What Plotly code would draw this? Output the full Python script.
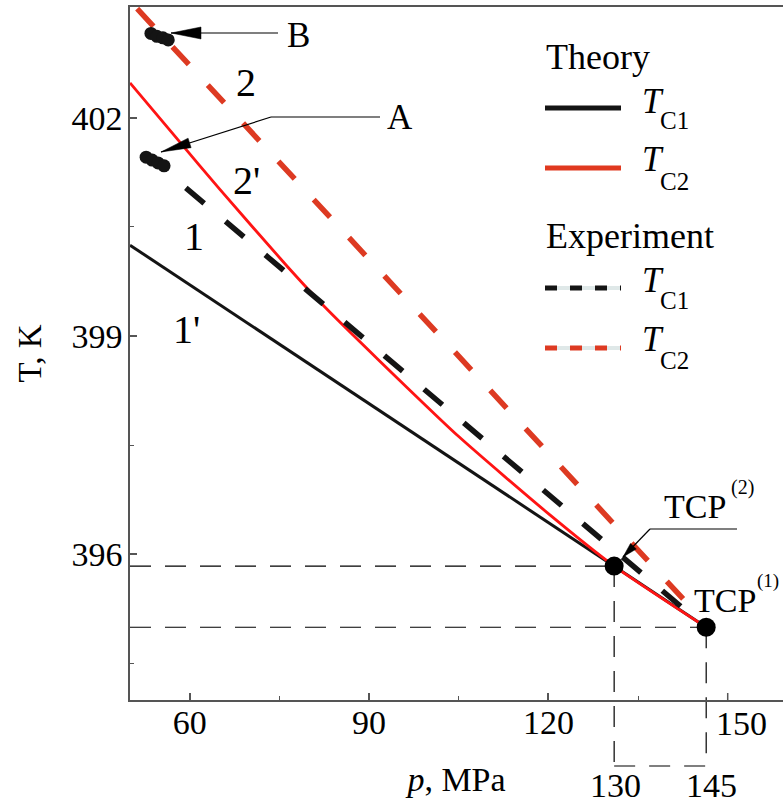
import plotly.graph_objects as go

# ---------------- data ----------------
p_theory_c1 = [50.0, 131.0, 146.4]
T_theory_c1 = [400.25, 395.84, 395.00]

p_theory_c2 = [50.0, 58.0, 65.0, 76.4, 82.6, 91.5, 105.0, 120.3, 131.0, 146.4]
T_theory_c2 = [402.48, 401.70, 401.02, 399.95, 399.40, 398.68, 397.62, 396.54, 395.84, 395.00]

p_exp_c1 = [52.7, 143.4]
T_exp_c1 = [401.50, 395.20]

p_exp_c2 = [51.2, 144.0]
T_exp_c2 = [403.50, 395.26]

p_A = [52.7, 53.7, 54.7, 55.7]
T_A = [401.46, 401.42, 401.38, 401.34]

p_B = [53.5, 54.5, 55.5, 56.4]
T_B = [403.16, 403.12, 403.10, 403.07]

p_tcp = [146.4, 131.0]
T_tcp = [395.00, 395.84]
tcp_tick_labels = ["145", "130"]

x_ticks = [60, 90, 120]
x_tick_labels = ["60", "90", "120"]
x_tick_last = 150
y_ticks = [396, 399, 402]
y_tick_labels = ["396", "399", "402"]

X_RANGE = [50, 159.25]
Y_RANGE = [394, 403.523]

# ---------------- layout helpers ----------------
W, H = 783, 805
ML, MR, MT, MB = 130, 0, 7, 105
PW, PH = W - ML - MR, H - MT - MB
FONT = "Liberation Serif, Times New Roman, serif"
RED_THEORY = "#ff1414"
RED_EXP = "#dd3a22"
BLACK = "#141414"
AXIS = "#555555"


def X(px):
    return (px - ML) / PW


def Y(py):
    return (H - MB - py) / PH


def yp_from_T(T):
    return (T - Y_RANGE[0]) / (Y_RANGE[1] - Y_RANGE[0])


fig = go.Figure()

# theory curves
fig.add_trace(go.Scatter(x=p_theory_c1, y=T_theory_c1, mode="lines",
                         line=dict(color=BLACK, width=3), showlegend=False))
fig.add_trace(go.Scatter(x=p_theory_c2, y=T_theory_c2, mode="lines",
                         line=dict(color=RED_THEORY, width=2.8, shape="spline", smoothing=0.6),
                         showlegend=False))
# experiment curves
fig.add_trace(go.Scatter(x=p_exp_c1, y=T_exp_c1, mode="lines",
                         line=dict(color=BLACK, width=5.5, dash="24px,28px"), showlegend=False))
fig.add_trace(go.Scatter(x=p_exp_c2, y=T_exp_c2, mode="lines",
                         line=dict(color=RED_EXP, width=5.5, dash="24px,28px"), showlegend=False))
# experimental point clusters
fig.add_trace(go.Scatter(x=p_A, y=T_A, mode="markers",
                         marker=dict(color=BLACK, size=13), showlegend=False))
fig.add_trace(go.Scatter(x=p_B, y=T_B, mode="markers",
                         marker=dict(color=BLACK, size=13), showlegend=False))
# tricritical points
fig.add_trace(go.Scatter(x=p_tcp, y=T_tcp, mode="markers",
                         marker=dict(color="black", size=19), showlegend=False))

shapes = []
annotations = []
guide = dict(color="black", width=1.2, dash="21px,14px")
y_low = Y(766)
for p, T in zip(p_tcp, T_tcp):
    shapes.append(dict(type="line", xref="x", yref="y", x0=X_RANGE[0], x1=p, y0=T, y1=T,
                       line=guide, layer="below"))
    shapes.append(dict(type="line", xref="x", yref="paper", x0=p, x1=p,
                       y0=yp_from_T(T), y1=y_low, line=guide, layer="below"))
shapes.append(dict(type="line", xref="x", yref="paper", x0=min(p_tcp), x1=max(p_tcp),
                   y0=y_low, y1=y_low, line=guide, layer="below"))

# major tick at 150 (its label is drawn slightly offset, as in the reference)
shapes.append(dict(type="line", xref="x", yref="paper", x0=x_tick_last, x1=x_tick_last,
                   y0=0, y1=7 / PH, line=dict(color=AXIS, width=1.5)))
annotations.append(dict(x=x_tick_last, xref="x", y=Y(723), yref="paper", text=str(x_tick_last),
                        showarrow=False, xanchor="center", yanchor="middle", xshift=14,
                        font=dict(family=FONT, size=34, color="black")))

# labels under the guide lines
for p, lab, xs in zip(p_tcp, tcp_tick_labels, [5, 1]):
    annotations.append(dict(x=p, xref="x", y=Y(785), yref="paper", text=lab, showarrow=False,
                            xanchor="center", yanchor="middle", xshift=xs,
                            font=dict(family=FONT, size=34, color="black")))


# arrows (decorative) ------------------------------------------------
def arrow(tail, tip, head_len, head_w, knee=None):
    pts = [tail] + ([knee] if knee else []) + [tip]
    for (a, b) in zip(pts[:-1], pts[1:]):
        shapes.append(dict(type="line", xref="paper", yref="paper",
                           x0=X(a[0]), y0=Y(a[1]), x1=X(b[0]), y1=Y(b[1]),
                           line=dict(color="black", width=1.2)))
    sx, sy = pts[-2]
    tx, ty = tip
    dx, dy = sx - tx, sy - ty
    n = (dx * dx + dy * dy) ** 0.5
    ux, uy = dx / n, dy / n
    bx, by = tx + ux * head_len, ty + uy * head_len
    nx, ny = -uy, ux
    p1 = (bx + nx * head_w / 2, by + ny * head_w / 2)
    p2 = (bx - nx * head_w / 2, by - ny * head_w / 2)
    path = "M {},{} L {},{} L {},{} Z".format(X(tx), Y(ty), X(p1[0]), Y(p1[1]), X(p2[0]), Y(p2[1]))
    shapes.append(dict(type="path", xref="paper", yref="paper", path=path,
                       fillcolor="black", line=dict(color="black", width=0.5)))


arrow((278, 33), (171, 33), 30, 12)
arrow((380, 117), (161, 152), 30, 10, knee=(271, 117))
arrow((737, 529), (623, 557), 15, 8, knee=(650, 529))


def txt(px, py, s, size=34, anchor="left", italic=False, color="black"):
    if italic:
        s = "<i>" + s + "</i>"
    annotations.append(dict(x=X(px), y=Y(py), xref="paper", yref="paper", text=s,
                            showarrow=False, xanchor=anchor, yanchor="middle",
                            font=dict(family=FONT, size=size, color=color)))


# curve labels and point labels
txt(194, 236, "1", 40, "center")
txt(186, 329, "1'", 40, "center")
txt(246, 82, "2", 40, "center")
txt(246, 180, "2'", 40, "center")
txt(400, 117, "A", 35, "center")
txt(298, 35, "B", 35, "center")
txt(662, 507, "TCP", 34)
txt(729, 487, "(2)", 20)
txt(758, 600, "TCP", 34, "right")
txt(781, 581, "(1)", 19, "right")

# legend (drawn manually)
txt(544, 57, "Theory", 36)
txt(544, 236, "Experiment", 36)
legend_rows = [
    (108, BLACK, "solid", "C1", 101, 121),
    (168, "#e0391f", "solid", "C2", 160, 181),
    (288, BLACK, "dash", "C1", 280, 300),
    (348, RED_EXP, "dash", "C2", 339, 360),
]
for ly, col, sty, sub, ty, sy in legend_rows:
    if sty == "solid":
        shapes.append(dict(type="line", xref="paper", yref="paper", x0=X(545), x1=X(621),
                           y0=Y(ly), y1=Y(ly), line=dict(color=col, width=5)))
    else:
        shapes.append(dict(type="line", xref="paper", yref="paper", x0=X(545), x1=X(621),
                           y0=Y(ly), y1=Y(ly), line=dict(color="#dfe8e8", width=4)))
        shapes.append(dict(type="line", xref="paper", yref="paper", x0=X(545), x1=X(621),
                           y0=Y(ly), y1=Y(ly), line=dict(color=col, width=5, dash="12px,13px")))
    txt(640, ty, "T", 35, italic=True)
    txt(658, sy, sub, 25)

fig.update_layout(
    width=W, height=H,
    margin=dict(l=ML, r=MR, t=MT, b=MB, pad=0),
    paper_bgcolor="white", plot_bgcolor="white",
    showlegend=False,
    shapes=shapes, annotations=annotations,
    font=dict(family=FONT, size=34, color="black"),
    xaxis=dict(range=X_RANGE, showgrid=False, zeroline=False, automargin=False,
               showline=True, linecolor=AXIS, linewidth=1.5, mirror=True,
               ticks="inside", ticklen=7, tickwidth=1.5, tickcolor=AXIS,
               tickvals=x_ticks, ticktext=x_tick_labels,
               tickfont=dict(family=FONT, size=34, color="black"),
               ticklabelstandoff=-9,
               title=dict(text="<i>p</i>, MPa", standoff=28,
                          font=dict(family=FONT, size=34, color="black")),
               minor=dict(ticks="inside", ticklen=4, tickwidth=1.2, tickcolor=AXIS,
                          tickvals=[75, 105, 135])),
    yaxis=dict(range=Y_RANGE, showgrid=False, zeroline=False, automargin=False,
               showline=True, linecolor=AXIS, linewidth=1.5,
               ticks="inside", ticklen=7, tickwidth=1.5, tickcolor=AXIS,
               tickvals=y_ticks, ticktext=y_tick_labels,
               tickfont=dict(family=FONT, size=34, color="black"),
               ticklabelstandoff=-1,
               title=dict(text="T, K", standoff=20,
                          font=dict(family=FONT, size=33, color="black")),
               minor=dict(ticks="inside", ticklen=4, tickwidth=1.2, tickcolor=AXIS,
                          tickvals=[394.5, 397.5, 400.5])),
)

fig.write_html("out.html")
